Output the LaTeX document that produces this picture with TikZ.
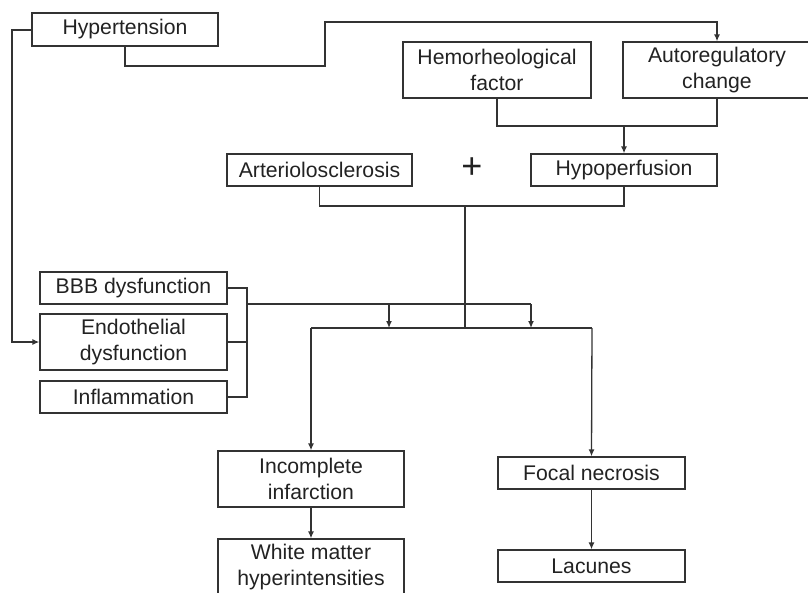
\documentclass[tikz,border=0pt]{standalone}
\usepackage{fontspec}
\setmainfont{Liberation Sans}
\usetikzlibrary{arrows.meta}
\definecolor{ln}{HTML}{333333}
\definecolor{tx}{HTML}{222222}
\begin{document}
\begin{tikzpicture}[x=1pt,y=-1pt,
  box/.style={draw=ln,line width=1.3pt,rectangle,inner sep=0pt,text=tx,align=center,
    font=\fontsize{21.2}{25.5}\selectfont},
  conn/.style={draw=ln,line width=1.3pt},
  arr/.style={conn,-{Latex[length=7pt,width=6pt]}}]
\useasboundingbox (0,0) rectangle (808,592);
% nodes
\node[box,minimum width=186pt,minimum height=33pt] (hyp) at (125,29.5) {Hypertension};
\node[box,minimum width=188pt,minimum height=56pt] (hemo) at (497,70) {Hemorheological\\factor};
\node[box,minimum width=188pt,minimum height=56pt] (auto) at (717,70) {Autoregulatory\\change};
\node[box,minimum width=185pt,minimum height=32pt] (arter) at (319.5,170) {Arteriolosclerosis};
\node[box,minimum width=186pt,minimum height=32pt] (hypo) at (624,170) {Hypoperfusion};
\node[text=tx,inner sep=0pt,font=\fontsize{36}{36}\selectfont] (plus) at (472,168) {+};
\node[box,minimum width=187pt,minimum height=32pt] (bbb) at (133.5,288) {BBB dysfunction};
\node[box,minimum width=187pt,minimum height=56pt] (endo) at (133.5,342) {Endothelial\\dysfunction};
\node[box,minimum width=187pt,minimum height=32pt] (infl) at (133.5,397) {Inflammation};
\node[box,minimum width=186pt,minimum height=56pt] (inc) at (311,479) {Incomplete\\infarction};
\node[box,minimum width=186pt,minimum height=56pt] (wmh) at (311,567) {White matter\\hyperintensities};
\node[box,minimum width=187pt,minimum height=32pt] (foc) at (591.5,473) {Focal necrosis};
\node[box,minimum width=187pt,minimum height=32pt] (lac) at (591.5,566) {Lacunes};
% junction coordinates
\coordinate (j1) at (624,126);
\coordinate (j2) at (465,206);
\coordinate (j3) at (465,328);
\coordinate (b1) at (247,304);
\coordinate (a1) at (389,328);
\coordinate (a2) at (531,328);
\coordinate (l1) at (311,328);
\coordinate (l2) at (592,328);
% connectors
\draw[arr] (hyp.west |- 0,30) -- (12,30) -- (12,342) -- (endo.west);
\draw[arr] (hyp.south) -- (125,66) -- (325,66) -- (325,22) -- (717,22) -- (auto.north);
\draw[conn] (hemo.south) -- (hemo.south |- j1) -- (auto.south |- j1) -- (auto.south);
\draw[arr] (j1) -- (hypo.north);
\draw[conn] (arter.south) -- (arter.south |- j2) -- (hypo.south |- j2) -- (hypo.south);
\draw[conn] (j2) -- (j3);
\draw[conn] (bbb.east) -- (247,288) -- (247,397) -- (infl.east);
\draw[conn] (endo.east) -- (247,342);
\draw[conn] (b1) -- (a2 |- b1);
\draw[arr] (a1 |- b1) -- (a1);
\draw[arr] (a2 |- b1) -- (a2);
\draw[conn] (l1) -- (l2);
\draw[arr] (l1) -- (inc.north);
\draw[arr] (l2) -- (foc.north);
\draw[arr] (inc.south) -- (wmh.north);
\draw[arr] (foc.south) -- (lac.north);
\end{tikzpicture}
\end{document}
